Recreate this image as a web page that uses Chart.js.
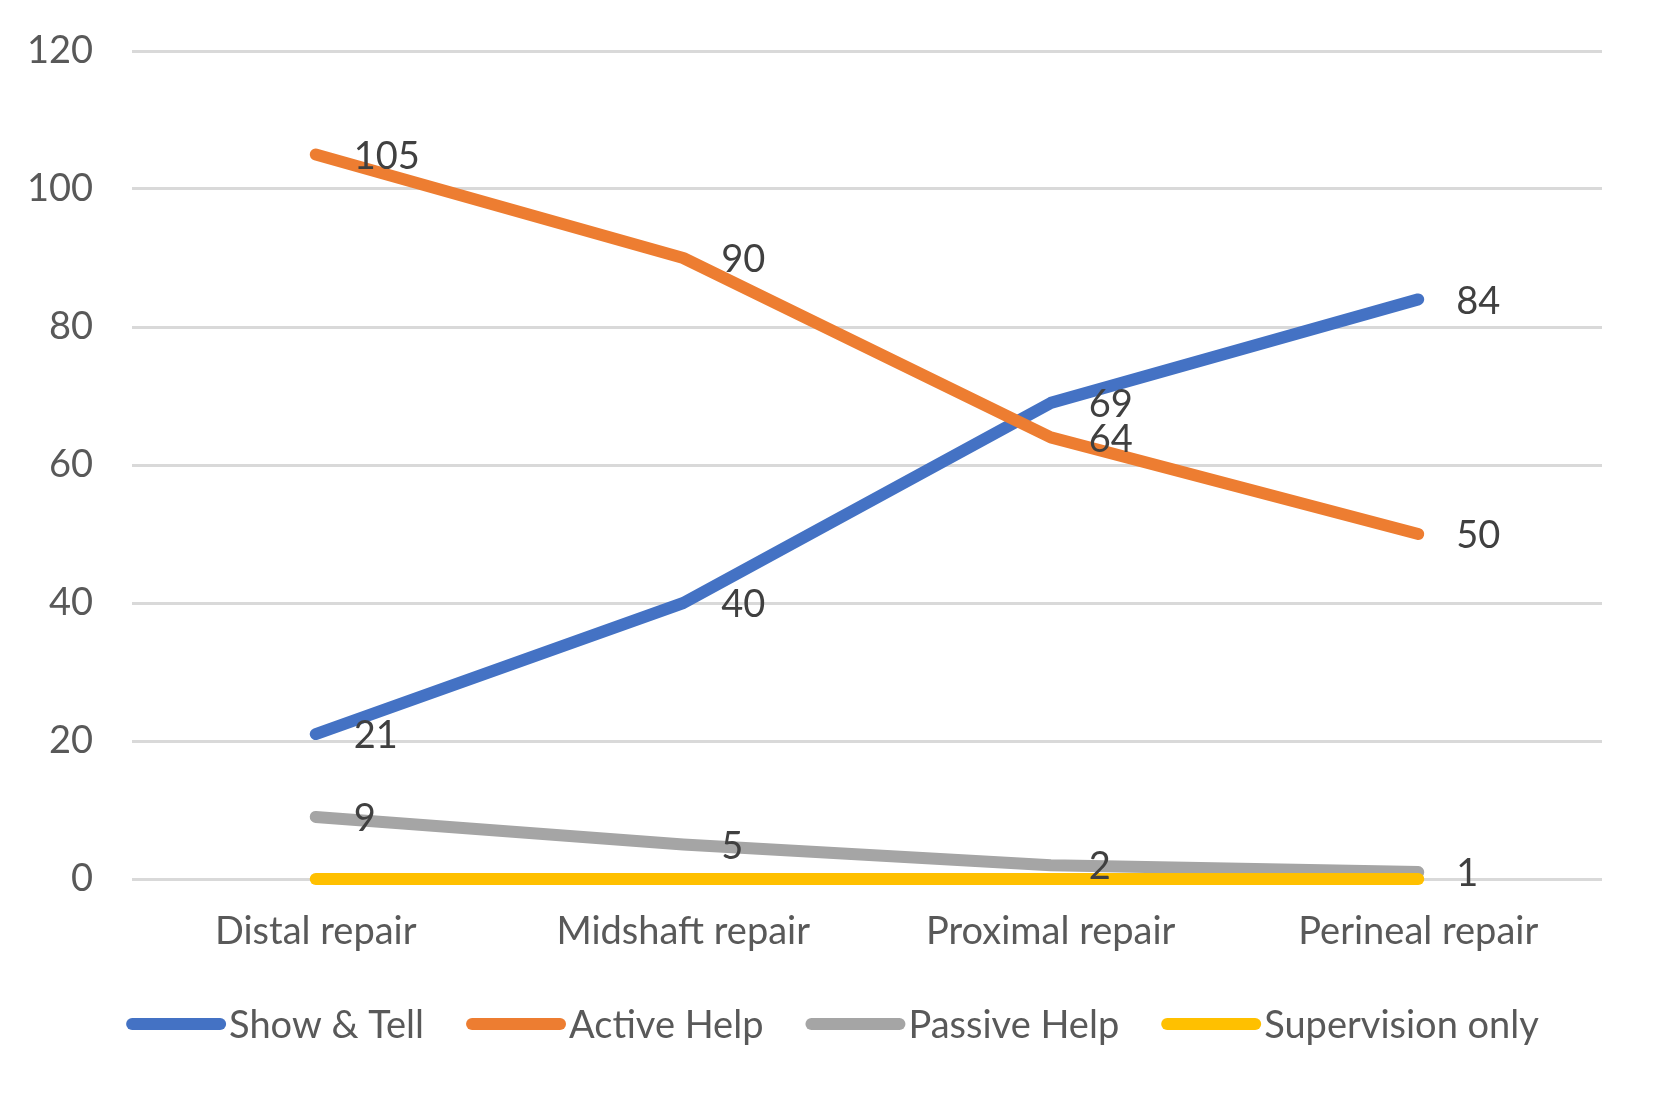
<!DOCTYPE html>
<html>
<head>
<meta charset="utf-8">
<script src="https://cdn.jsdelivr.net/npm/chart.js@4"></script>
<style>
  html, body { margin: 0; padding: 0; background: #ffffff; }
  #wrap { width: 1659px; height: 1095px; position: relative; }
</style>
</head>
<body>
<div id="wrap"><canvas id="c"></canvas></div>
<script>
const categories = ['Distal repair', 'Midshaft repair', 'Proximal repair', 'Perineal repair'];
const seriesNames = ['Show & Tell', 'Active Help', 'Passive Help', 'Supervision only'];
const showTell = [21, 40, 69, 84];
const activeHelp = [105, 90, 64, 50];
const passiveHelp = [9, 5, 2, 1];
const supervisionOnly = [0, 0, 0, 0];
const yMin = 0, yMax = 120, yStep = 20;

const colors = ['#4472C4', '#ED7D31', '#A5A5A5', '#FFC000'];
const showLabels = [true, true, true, false];
const FONT = 'Lato, "Open Sans", sans-serif';
const FS = 38;

const dataLabelPlugin = {
  id: 'dataLabels',
  afterDatasetsDraw(chart) {
    const ctx = chart.ctx;
    ctx.save();
    ctx.font = FS + 'px ' + FONT;
    ctx.fillStyle = '#404040';
    ctx.textAlign = 'left';
    ctx.textBaseline = 'middle';
    chart.data.datasets.forEach((ds, i) => {
      if (!showLabels[i]) return;
      const meta = chart.getDatasetMeta(i);
      meta.data.forEach((pt, j) => {
        ctx.fillText(String(ds.data[j]), pt.x + 38, pt.y + 2);
      });
    });
    ctx.restore();
  }
};

const legendPlugin = {
  id: 'customLegend',
  afterDraw(chart) {
    const ctx = chart.ctx;
    ctx.save();
    ctx.font = FS + 'px ' + FONT;
    const boxW = 100, boxH = 12, gap = 3, itemGap = 42;
    const items = chart.data.datasets.map(ds => ({ label: ds.label, color: ds.borderColor, w: ctx.measureText(ds.label).width }));
    let total = 0;
    items.forEach((it, i) => { total += boxW + gap + it.w + (i < items.length - 1 ? itemGap : 0); });
    let x = (chart.width - total) / 2 + 3;
    const y = 1024;
    items.forEach(it => {
      ctx.strokeStyle = it.color;
      ctx.lineWidth = boxH;
      ctx.lineCap = 'round';
      ctx.beginPath();
      ctx.moveTo(x + boxH / 2, y);
      ctx.lineTo(x + boxW - boxH / 2, y);
      ctx.stroke();
      ctx.fillStyle = '#595959';
      ctx.textAlign = 'left';
      ctx.textBaseline = 'middle';
      ctx.fillText(it.label, x + boxW + gap, y + 2);
      x += boxW + gap + it.w + itemGap;
    });
    ctx.restore();
  }
};

const seriesData = [showTell, activeHelp, passiveHelp, supervisionOnly];
const datasets = seriesData.map((d, i) => ({
  label: seriesNames[i],
  data: d,
  borderColor: colors[i],
  backgroundColor: colors[i],
  borderWidth: 12,
  borderCapStyle: 'round',
  borderJoinStyle: 'round',
  pointRadius: 0,
  pointHoverRadius: 0,
  tension: 0,
  fill: false,
  clip: false,
  order: 4 - i
}));

new Chart(document.getElementById('c'), {
  type: 'line',
  data: { labels: categories, datasets },
  options: {
    responsive: true,
    maintainAspectRatio: false,
    devicePixelRatio: 1,
    animation: false,
    layout: { padding: { top: 51, right: 57, left: 0, bottom: 0 } },
    plugins: { legend: { display: false }, tooltip: { enabled: false } },
    scales: {
      x: {
        offset: true,
        grid: { display: false, drawTicks: false },
        border: { display: false },
        ticks: { color: '#595959', font: { family: FONT, size: FS }, padding: 30, maxRotation: 0 },
        afterFit(s) { s.height = 216; s.paddingLeft = 0; s.paddingRight = 0; }
      },
      y: {
        min: yMin, max: yMax,
        grid: { color: '#D9D9D9', lineWidth: 3, drawTicks: false },
        border: { display: false },
        ticks: { stepSize: yStep, color: '#595959', font: { family: FONT, size: FS }, padding: 39 },
        afterFit(s) { s.width = 132; s.paddingTop = 0; s.paddingBottom = 0; }
      }
    }
  },
  plugins: [dataLabelPlugin, legendPlugin]
});
</script>
</body>
</html>
